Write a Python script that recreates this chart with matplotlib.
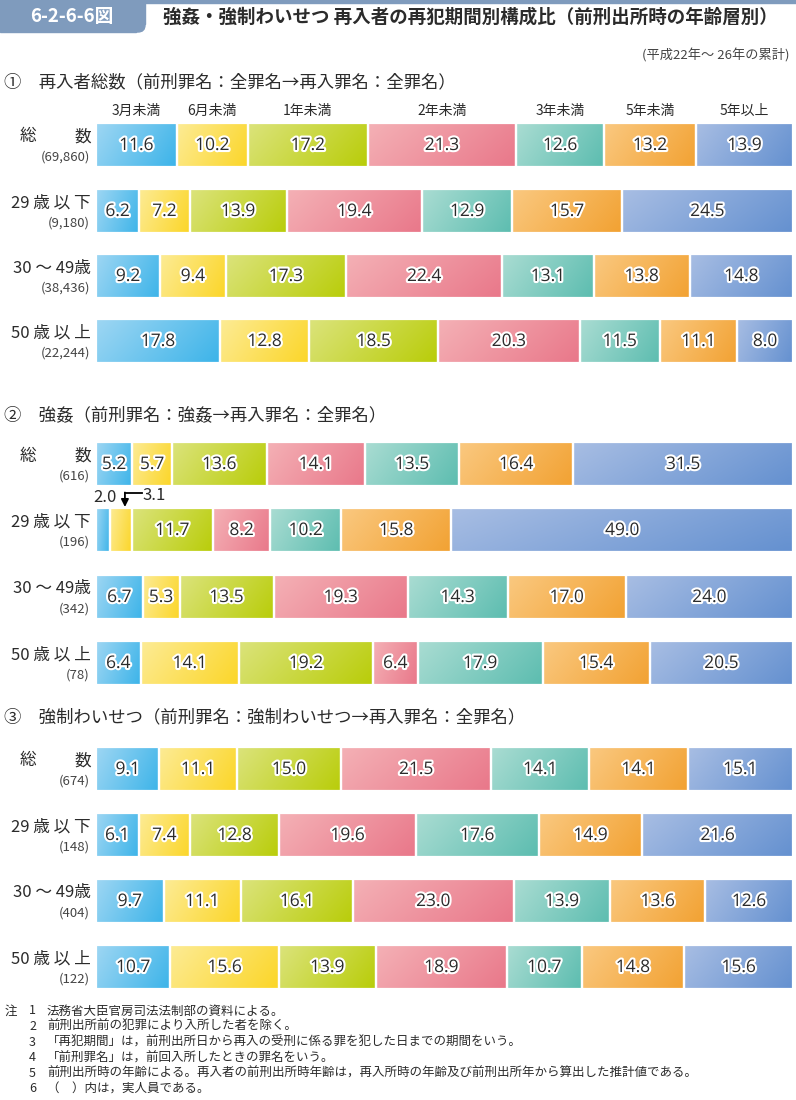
import matplotlib
matplotlib.use("Agg")
import matplotlib.pyplot as plt
import matplotlib.patheffects as pe
from matplotlib.patches import FancyBboxPatch, Rectangle
from matplotlib.transforms import IdentityTransform
from matplotlib.colors import to_rgb
import numpy as np

plt.rcParams['font.family'] = ['Noto Sans CJK JP', 'DejaVu Sans']

# ---------------- data ----------------
categories = ['3月未満', '6月未満', '1年未満', '2年未満', '3年未満', '5年未満', '5年以上']

p1_title = '①　再入者総数（前刑罪名：全罪名→再入罪名：全罪名）'
p1_labels = ['総　　数', '29 歳 以 下', '30 ～ 49歳', '50 歳 以 上']
p1_counts = ['(69,860)', '(9,180)', '(38,436)', '(22,244)']
p1_values = [
    [11.6, 10.2, 17.2, 21.3, 12.6, 13.2, 13.9],
    [6.2, 7.2, 13.9, 19.4, 12.9, 15.7, 24.5],
    [9.2, 9.4, 17.3, 22.4, 13.1, 13.8, 14.8],
    [17.8, 12.8, 18.5, 20.3, 11.5, 11.1, 8.0],
]

p2_title = '②　強姦（前刑罪名：強姦→再入罪名：全罪名）'
p2_labels = ['総　　数', '29 歳 以 下', '30 ～ 49歳', '50 歳 以 上']
p2_counts = ['(616)', '(196)', '(342)', '(78)']
p2_values = [
    [5.2, 5.7, 13.6, 14.1, 13.5, 16.4, 31.5],
    [2.0, 3.1, 11.7, 8.2, 10.2, 15.8, 49.0],
    [6.7, 5.3, 13.5, 19.3, 14.3, 17.0, 24.0],
    [6.4, 14.1, 19.2, 6.4, 17.9, 15.4, 20.5],
]

p3_title = '③　強制わいせつ（前刑罪名：強制わいせつ→再入罪名：全罪名）'
p3_labels = ['総　　数', '29 歳 以 下', '30 ～ 49歳', '50 歳 以 上']
p3_counts = ['(674)', '(148)', '(404)', '(122)']
p3_values = [
    [9.1, 11.1, 15.0, 21.5, 14.1, 14.1, 15.1],
    [6.1, 7.4, 12.8, 19.6, 17.6, 14.9, 21.6],
    [9.7, 11.1, 16.1, 23.0, 13.9, 13.6, 12.6],
    [10.7, 15.6, 13.9, 18.9, 10.7, 14.8, 15.6],
]

fig_title = '強姦・強制わいせつ 再入者の再犯期間別構成比（前刑出所時の年齢層別）'
fig_number = '6-2-6-6図'
period_note = '(平成22年～ 26年の累計)'
notes = [
    ('注', '1', '法務省大臣官房司法法制部の資料による。'),
    ('', '2', '前刑出所前の犯罪により入所した者を除く。'),
    ('', '3', '「再犯期間」は，前刑出所日から再入の受刑に係る罪を犯した日までの期間をいう。'),
    ('', '4', '「前刑罪名」は，前回入所したときの罪名をいう。'),
    ('', '5', '前刑出所時の年齢による。再入者の前刑出所時年齢は，再入所時の年齢及び前刑出所年から算出した推計値である。'),
    ('', '6', '（　）内は，実人員である。'),
]

# gradient colors (light, dark) per category
grad_colors = [
    ('#9dd6f3', '#3db4e9'),
    ('#fdeb94', '#fbd629'),
    ('#dbe37a', '#b9cd0a'),
    ('#f4b0b5', '#e9788a'),
    ('#a9dcd2', '#5dbdb0'),
    ('#fac87f', '#f2a233'),
    ('#a7bde3', '#6591d0'),
]

# ---------------- layout (pixel coordinates) ----------------
W, H = 796, 1100
fig = plt.figure(figsize=(W / 100, H / 100), dpi=100)
ax = fig.add_axes([0, 0, 1, 1])
BAR_L, BAR_R = 96, 793
scale = (BAR_R - BAR_L) / 100.0


def px(x):
    return (x - BAR_L) / scale


ax.set_xlim(px(0), px(W))
ax.set_ylim(H, 0)
ax.axis('off')

BAR_H = 44
panels = [
    (p1_title, 82, [145, 211, 276, 341], p1_labels, p1_counts, p1_values),
    (p2_title, 415, [464, 530, 597, 663], p2_labels, p2_counts, p2_values),
    (p3_title, 717, [769, 835, 901, 967], p3_labels, p3_counts, p3_values),
]

stroke = [pe.withStroke(linewidth=3, foreground='white')]
txtcol = '#2b2b2b'


def gradient_img(c0, c1, n=24):
    a = np.array(to_rgb(c0))
    b = np.array(to_rgb(c1))
    u = np.linspace(0, 1, n)
    t = (u[None, :] * 0.75 + u[:, None] * 0.25)
    return a[None, None, :] * (1 - t[..., None]) + b[None, None, :] * t[..., None]


for pi, (ptitle, ty, ycs, labels, counts, values) in enumerate(panels):
    ax.text(px(4), ty, ptitle, fontsize=12.5, va='center', ha='left', color=txtcol)
    for ri, (yc, lab, cnt, row) in enumerate(zip(ycs, labels, counts, values)):
        row = np.array(row, dtype=float)
        widths = row / row.sum() * 100
        lefts = np.concatenate([[0], np.cumsum(widths)[:-1]])
        bars = ax.barh([yc] * len(row), widths, left=lefts, height=BAR_H,
                       color=[g[1] for g in grad_colors], edgecolor='none')
        for bi, b in enumerate(bars):
            x0, x1 = lefts[bi], lefts[bi] + widths[bi]
            im = ax.imshow(gradient_img(*grad_colors[bi]), extent=(x0, x1, yc + BAR_H / 2, yc - BAR_H / 2),
                           origin='upper', aspect='auto', interpolation='bilinear', zorder=2)
            im.set_clip_path(b)
        ax.barh([yc] * len(row), widths, left=lefts, height=BAR_H, color='none',
                edgecolor='white', linewidth=1.6, zorder=3)
        # values
        for bi, v in enumerate(row):
            if pi == 1 and ri == 1 and bi in (0, 1):
                continue
            ax.text(lefts[bi] + widths[bi] / 2, yc + 1, f'{v:.1f}', ha='center', va='center',
                    fontsize=12.5, color=txtcol, path_effects=stroke, zorder=5,
                    family=['Open Sans', 'DejaVu Sans'])
        # left labels
        if lab.startswith('総'):
            ax.text(px(20), yc - 8, '総', ha='left', va='center', fontsize=12, color=txtcol)
            ax.text(px(91), yc - 8, '数', ha='right', va='center', fontsize=12, color=txtcol)
        else:
            ax.text(px(91), yc - 8, lab, ha='right', va='center', fontsize=12, color=txtcol)
        ax.text(px(90), yc + 12, cnt, ha='right', va='center', fontsize=9.5, color='#444444')
        # column headers over first row of panel 1
        if pi == 0 and ri == 0:
            for bi, cat in enumerate(categories):
                ax.text(lefts[bi] + widths[bi] / 2, 111, cat, ha='center', va='center',
                        fontsize=10, color=txtcol)
        # small-value callout for 強姦 29歳以下
        if pi == 1 and ri == 1:
            top = yc - BAR_H / 2
            ax.text(lefts[0] + widths[0] / 2 + 0.3, top - 11, f'{row[0]:.1f}', ha='center', va='center',
                    fontsize=12, color=txtcol)
            c2 = lefts[1] + widths[1] / 2 + 0.6
            ax.text(px(154), top - 13, f'{row[1]:.1f}', ha='center', va='center',
                    fontsize=12, color=txtcol)
            ax.plot([c2, px(142)], [top - 15, top - 15], color='black', lw=1.3, zorder=6)
            ax.annotate('', xy=(c2, top - 1), xytext=(c2, top - 15.5),
                        arrowprops=dict(arrowstyle='-|>', color='black', lw=1.3,
                                        mutation_scale=11, shrinkA=0, shrinkB=0), zorder=6)

# ---------------- header (display pixel coords, origin bottom-left) ----------------
hc = '#7f9bbd'
ident = IdentityTransform()
fig.add_artist(Rectangle((0, H - 3), W, 3, color=hc, transform=ident, zorder=-5))
fig.add_artist(FancyBboxPatch((0, H - 32), 145, 32, boxstyle='round,pad=0,rounding_size=7',
                              color=hc, transform=ident, zorder=-5))
fig.add_artist(Rectangle((0, H - 32), 136, 32, color=hc, transform=ident, zorder=-5))
fig.add_artist(Rectangle((0, H - 24), 145, 24, color=hc, transform=ident, zorder=-5))
ax.text(px(30), 16, fig_number, ha='left', va='center', fontsize=13.5, color='white', weight='bold', zorder=10)
ax.text(px(163), 17, fig_title, ha='left', va='center', fontsize=13.3, color=txtcol, weight='bold')
ax.text(px(790), 56, period_note, ha='right', va='center', fontsize=9.5, color='#444444')

# ---------------- notes ----------------
for i, (a, n, t) in enumerate(notes):
    y = 1011 + i * 15.6
    if a:
        ax.text(px(5), y, a, ha='left', va='center', fontsize=9, color=txtcol)
    ax.text(px(29), y, n, ha='left', va='center', fontsize=9, color=txtcol)
    ax.text(px(47), y, t, ha='left', va='center', fontsize=9, color=txtcol)

ax.set_xlim(px(0), px(W))
ax.set_ylim(H, 0)
fig.savefig('out.png', dpi=100)
